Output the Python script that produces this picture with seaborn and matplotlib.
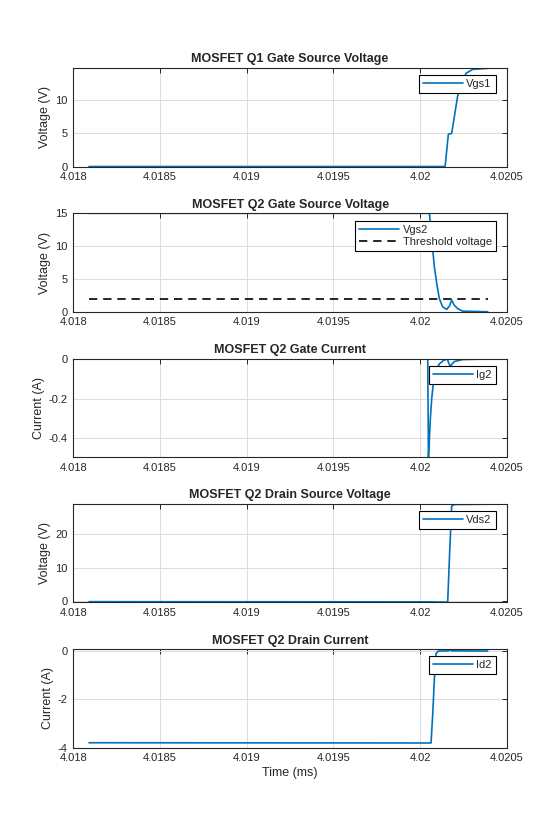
import matplotlib
matplotlib.use("Agg")
import matplotlib.pyplot as plt
import seaborn as sns
import numpy as np

# time axis in ms
vgs1_t = [4.01809, 4.020144, 4.020163, 4.020182, 4.020216, 4.020236, 4.020265, 4.020303, 4.02039]
vgs1_v = [0.0, 0.0, 4.9, 5.0, 10.6, 12.6, 14.1, 14.7, 14.85]

vgs2_t = [4.01809, 4.020050, 4.020054, 4.020063, 4.020073, 4.020082, 4.020096, 4.020111,
          4.020130, 4.020153, 4.020169, 4.020182, 4.020197, 4.020216, 4.020245, 4.02039]
vgs2_v = [15.0, 15.0, 15.0, 11.9, 9.4, 6.9, 4.3, 2.0, 0.76, 0.36, 0.87, 1.78, 1.0, 0.5, 0.1, 0.0]

vth_t = [4.01809, 4.02039]
vth_v = [2.0, 2.0]

ig2_t = [4.01809, 4.020044, 4.020048, 4.020053, 4.020059, 4.020067, 4.020077, 4.020092,
         4.020111, 4.020134, 4.020156, 4.020173, 4.020197, 4.020245, 4.02039]
ig2_i = [0.0, 0.0, -0.495, -0.417, -0.30, -0.20, -0.117, -0.058, -0.025, -0.008, 0.0,
         -0.037, -0.013, -0.003, 0.0]

vds2_t = [4.01809, 4.02005, 4.020159, 4.020170, 4.020182, 4.020197, 4.02039]
vds2_v = [-0.3, -0.35, -0.45, 14.0, 28.5, 29.0, 29.1]

id2_t = [4.01809, 4.020063, 4.020073, 4.020082, 4.020092, 4.020105, 4.020165, 4.020172,
         4.020180, 4.02039]
id2_i = [-3.80, -3.81, -2.6, -1.2, -0.12, -0.02, -0.01, 0.06, -0.01, -0.02]

x_ticks = [4.018, 4.0185, 4.019, 4.0195, 4.02, 4.0205]
x_tick_labels = ["4.018", "4.0185", "4.019", "4.0195", "4.02", "4.0205"]

titles = ["MOSFET Q1 Gate Source Voltage", "MOSFET Q2 Gate Source Voltage",
          "MOSFET Q2 Gate Current", "MOSFET Q2 Drain Source Voltage",
          "MOSFET Q2 Drain Current"]
ylabels = ["Voltage (V)", "Voltage (V)", "Current (A)", "Voltage (V)", "Current (A)"]
yticks = [[0, 5, 10], [0, 5, 10, 15], [-0.4, -0.2, 0], [0, 10, 20], [-4, -2, 0]]
ytick_labels = [["0", "5", "10"], ["0", "5", "10", "15"], ["-0.4", "-0.2", "0"],
                ["0", "10", "20"], ["-4", "-2", "0"]]
ylims = [(0, 14.9), (0, 15), (-0.495, 0.002), (-0.5, 29.2), (-4.0, 0.06)]

BLUE = "#0072BD"

sns.set_theme(style="whitegrid")
plt.rcParams["font.family"] = ["Liberation Sans", "DejaVu Sans"]
plt.rcParams["axes.unicode_minus"] = False

fig, axes = plt.subplots(5, 1, figsize=(5.6, 8.4), dpi=100)
fig.subplots_adjust(left=0.131, right=0.905, top=0.919, bottom=0.110, hspace=0.475)

series = [
    [(vgs1_t, vgs1_v, "Vgs1", BLUE, "-")],
    [(vgs2_t, vgs2_v, "Vgs2", BLUE, "-"), (vth_t, vth_v, "Threshold voltage", "black", (0, (5, 3.5)))],
    [(ig2_t, ig2_i, "Ig2", BLUE, "-")],
    [(vds2_t, vds2_v, "Vds2", BLUE, "-")],
    [(id2_t, id2_i, "Id2", BLUE, "-")],
]
legend_top = [0.93, 0.925, 0.925, 0.925, 0.93]

for i, ax in enumerate(axes):
    for t, v, lab, col, ls in series[i]:
        sns.lineplot(x=t, y=v, ax=ax, estimator=None, sort=False, color=col,
                     linestyle=ls, linewidth=1.2, label=lab)
    ax.set_facecolor("white")
    ax.set_xlim(4.018, 4.0205)
    ax.set_ylim(*ylims[i])
    ax.set_xticks(x_ticks)
    ax.set_xticklabels(x_tick_labels)
    ax.set_yticks(yticks[i])
    ax.set_yticklabels(ytick_labels[i])
    ax.grid(True, color="#dcdcdc", linewidth=0.7)
    for s in ax.spines.values():
        s.set_visible(True)
        s.set_color("#262626")
        s.set_linewidth(0.8)
    ax.tick_params(direction="in", length=3.5, width=0.7, top=True, right=True,
                   labelsize=8, labelcolor="#262626", color="#262626", pad=4)
    ax.set_title(titles[i], fontsize=9, fontweight="bold", pad=4)
    ax.set_ylabel(ylabels[i], fontsize=9, color="#262626", labelpad=3)
    ax.set_xlabel("")
    leg = ax.legend(loc="upper right", bbox_to_anchor=(0.974, legend_top[i]),
                    borderaxespad=0, fontsize=8, frameon=True, fancybox=False,
                    edgecolor="black", framealpha=1, handlelength=3.6,
                    borderpad=0.35, handletextpad=0.3, labelspacing=0.2)
    leg.get_frame().set_linewidth(0.8)

axes[-1].set_xlabel("Time (ms)", fontsize=9, color="#262626", labelpad=3)

fig.savefig("out.png", dpi=100, facecolor="white")
